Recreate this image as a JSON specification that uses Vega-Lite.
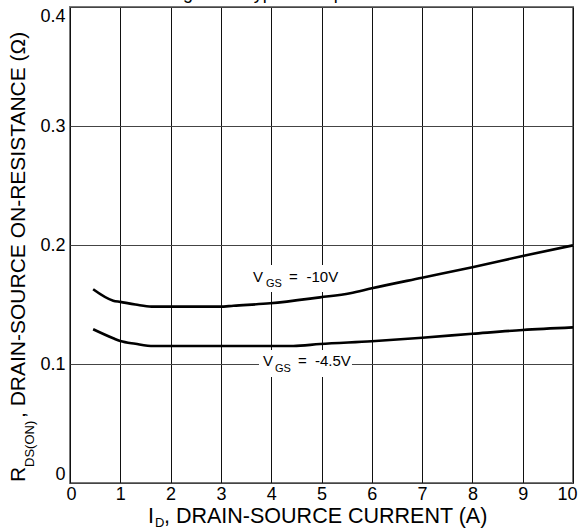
{
  "$schema": "https://vega.github.io/schema/vega-lite/v6.json",
  "width": 503,
  "height": 476,
  "autosize": {"type": "none"},
  "padding": {"left": 70, "top": 7, "right": 9, "bottom": 46},
  "config": {
    "view": {"stroke": "#777777", "strokeWidth": 2},
    "font": "Liberation Sans",
    "text": {"font": "Liberation Sans", "color": "#000000"}
  },
  "datasets": {
    "curves": [
      {"vgs": "-10V", "x": 0.46, "y": 0.1628},
      {"vgs": "-10V", "x": 0.86, "y": 0.1532},
      {"vgs": "-10V", "x": 1.0, "y": 0.1522},
      {"vgs": "-10V", "x": 1.3, "y": 0.150},
      {"vgs": "-10V", "x": 1.62, "y": 0.1482},
      {"vgs": "-10V", "x": 2.98, "y": 0.1482},
      {"vgs": "-10V", "x": 3.25, "y": 0.149},
      {"vgs": "-10V", "x": 3.98, "y": 0.151},
      {"vgs": "-10V", "x": 4.97, "y": 0.156},
      {"vgs": "-10V", "x": 5.57, "y": 0.1594},
      {"vgs": "-10V", "x": 6.0, "y": 0.1636},
      {"vgs": "-10V", "x": 7.0, "y": 0.1725},
      {"vgs": "-10V", "x": 8.0, "y": 0.1813},
      {"vgs": "-10V", "x": 9.0, "y": 0.1908},
      {"vgs": "-10V", "x": 10.0, "y": 0.1997},
      {"vgs": "-4.5V", "x": 0.46, "y": 0.1292},
      {"vgs": "-4.5V", "x": 0.86, "y": 0.1216},
      {"vgs": "-4.5V", "x": 1.0, "y": 0.1193},
      {"vgs": "-4.5V", "x": 1.3, "y": 0.117},
      {"vgs": "-4.5V", "x": 1.66, "y": 0.1151},
      {"vgs": "-4.5V", "x": 4.44, "y": 0.1151},
      {"vgs": "-4.5V", "x": 4.97, "y": 0.1168},
      {"vgs": "-4.5V", "x": 6.0, "y": 0.1191},
      {"vgs": "-4.5V", "x": 7.0, "y": 0.1221},
      {"vgs": "-4.5V", "x": 8.0, "y": 0.1254},
      {"vgs": "-4.5V", "x": 9.0, "y": 0.1286},
      {"vgs": "-4.5V", "x": 10.0, "y": 0.1308}
    ],
    "boxes": [
      {"x": 3.598, "x2": 5.427, "y": 0.1832, "y2": 0.1605},
      {"x": 3.757, "x2": 5.606, "y": 0.1118, "y2": 0.0891}
    ],
    "curveLabels": [
      {"x": 3.638, "y": 0.1692, "text": "V"},
      {"x": 4.354, "y": 0.1692, "text": "="},
      {"x": 4.702, "y": 0.1692, "text": "-10V"},
      {"x": 3.837, "y": 0.0986, "text": "V"},
      {"x": 4.533, "y": 0.0986, "text": "="},
      {"x": 4.871, "y": 0.0986, "text": "-4.5V"}
    ],
    "curveSubs": [
      {"x": 3.897, "y": 0.1647, "text": "GS"},
      {"x": 4.076, "y": 0.0935, "text": "GS"}
    ],
    "xTitle": [
      {"x": 1.551, "y": -0.034, "text": "I"},
      {"x": 1.869, "y": -0.034, "text": ", DRAIN-SOURCE CURRENT (A)"}
    ],
    "xTitleSub": [
      {"x": 1.69, "y": -0.0368, "text": "D"}
    ],
    "yTitle": [
      {"x": -0.895, "y": 0.00084, "text": "R"},
      {"x": -0.895, "y": 0.0546, "text": ", DRAIN-SOURCE ON-RESISTANCE (Ω)"}
    ],
    "yTitleSub": [
      {"x": -0.716, "y": 0.01345, "text": "DS(ON)"}
    ],
    "figTitle": [
      {"x": 1.948, "y": 0.4067, "text": "Figure 3. Typical Output Characteristics"}
    ]
  },
  "encoding": {
    "x": {
      "field": "x",
      "type": "quantitative",
      "scale": {"domain": [0, 10], "nice": false, "zero": false},
      "axis": {
        "title": null,
        "values": [0, 1, 2, 3, 4, 5, 6, 7, 8, 9, 10],
        "format": "d",
        "domain": false,
        "ticks": false,
        "grid": true,
        "gridColor": "#111111",
        "gridWidth": 1,
        "gridOpacity": 1,
        "labelFont": "Liberation Sans",
        "labelFontSize": 18,
        "labelColor": "#000000",
        "labelPadding": 2,
        "labelFlush": true,
        "labelFlushOffset": 4,
        "labelOverlap": false,
        "labelBound": false
      }
    },
    "y": {
      "field": "y",
      "type": "quantitative",
      "scale": {"domain": [0, 0.4], "nice": false, "zero": false},
      "axis": {
        "title": null,
        "values": [0, 0.1, 0.2, 0.3, 0.4],
        "format": ".1~f",
        "domain": false,
        "ticks": false,
        "grid": true,
        "gridColor": "#444444",
        "gridWidth": 1,
        "gridOpacity": 1,
        "labelFont": "Liberation Sans",
        "labelFontSize": 18,
        "labelColor": "#000000",
        "labelPadding": 5,
        "labelFlush": true,
        "labelOverlap": false
      }
    }
  },
  "layer": [
    {
      "data": {"name": "boxes"},
      "mark": {"type": "rect", "fill": "#ffffff", "stroke": null},
      "encoding": {
        "x2": {"field": "x2"},
        "y2": {"field": "y2"}
      }
    },
    {
      "data": {"name": "curves"},
      "mark": {"type": "line", "color": "#000000", "strokeWidth": 2.6, "interpolate": "monotone", "strokeJoin": "round"},
      "encoding": {
        "detail": {"field": "vgs"}
      }
    },
    {
      "data": {"name": "curveLabels"},
      "mark": {"type": "text", "fontSize": 15, "align": "left", "baseline": "alphabetic"},
      "encoding": {"text": {"field": "text"}}
    },
    {
      "data": {"name": "curveSubs"},
      "mark": {"type": "text", "fontSize": 11, "align": "left", "baseline": "alphabetic"},
      "encoding": {"text": {"field": "text"}}
    },
    {
      "data": {"name": "xTitle"},
      "mark": {"type": "text", "fontSize": 21.5, "align": "left", "baseline": "alphabetic"},
      "encoding": {"text": {"field": "text"}}
    },
    {
      "data": {"name": "xTitleSub"},
      "mark": {"type": "text", "fontSize": 13, "align": "left", "baseline": "alphabetic"},
      "encoding": {"text": {"field": "text"}}
    },
    {
      "data": {"name": "yTitle"},
      "mark": {"type": "text", "fontSize": 21, "align": "left", "baseline": "alphabetic", "angle": 270},
      "encoding": {"text": {"field": "text"}}
    },
    {
      "data": {"name": "yTitleSub"},
      "mark": {"type": "text", "fontSize": 13, "align": "left", "baseline": "alphabetic", "angle": 270},
      "encoding": {"text": {"field": "text"}}
    },
    {
      "data": {"name": "figTitle"},
      "mark": {"type": "text", "fontSize": 18, "align": "left", "baseline": "alphabetic"},
      "encoding": {"text": {"field": "text"}}
    }
  ]
}
